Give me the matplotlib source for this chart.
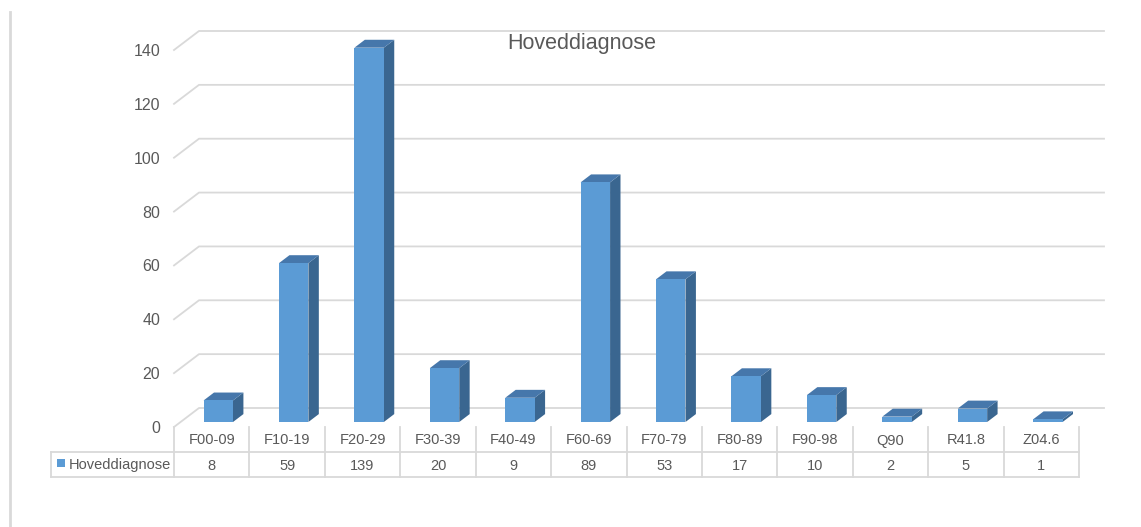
#!/usr/bin/env python3
import matplotlib
matplotlib.use("agg")
import matplotlib.pyplot as plt
from matplotlib.patches import Polygon, Rectangle
from matplotlib.transforms import blended_transform_factory

categories = ["F00-09", "F10-19", "F20-29", "F30-39", "F40-49", "F60-69",
              "F70-79", "F80-89", "F90-98", "Q90", "R41.8", "Z04.6"]
values = [8, 59, 139, 20, 9, 89, 53, 17, 10, 2, 5, 1]
yticks = [0, 20, 40, 60, 80, 100, 120, 140]
series_name = "Hoveddiagnose"
title = "Hoveddiagnose"

FRONT = "#5B9BD5"
TOP = "#4677AB"
SIDE = "#3A6690"
GRID = "#D9D9D9"
TEXT = "#595959"

W, H = 1141, 527
plt.rcParams["font.family"] = ["Liberation Sans", "DejaVu Sans"]

fig = plt.figure(figsize=(W / 100, H / 100), dpi=100)
fig.patch.set_facecolor("white")

# overlay in pixel coordinates for frame decorations
pix = fig.add_axes([0, 0, 1, 1])
pix.set_xlim(0, W)
pix.set_ylim(H, 0)
pix.axis("off")

# front plane of the 3d plot
x0, x1 = 174, 1079
y0, y140 = 427, 50
ax = fig.add_axes([x0 / W, (H - y0) / H, (x1 - x0) / W, (y0 - y140) / H])
n = len(categories)
ax.set_xlim(-0.5, n - 0.5)
ax.set_ylim(0, 140)
ax.patch.set_alpha(0)
for s in ax.spines.values():
    s.set_visible(False)
ax.set_xticks([])
ax.set_yticks(yticks)
ax.tick_params(axis="y", length=0, pad=10, labelsize=11.5, labelcolor=TEXT)

# depth of the plot in data units
px_x = (x1 - x0) / n
px_y = (y0 - y140) / 140
ddx = 25 / px_x
ddy = 19 / px_y

# gridlines: slant on the left wall then along back wall
for v in yticks:
    ax.plot([-0.5, -0.5 + ddx, n - 0.5 + ddx], [v, v + ddy, v + ddy],
            color=GRID, lw=1.3, clip_on=False, zorder=1)

# 3d bars
bw = 0.39
d0, d1 = 0.263, 0.68
for i, v in enumerate(values):
    xl = i - bw / 2 + d0 * ddx
    xr = xl + bw
    yb = d0 * ddy
    yt = v + d0 * ddy
    sx = (d1 - d0) * ddx
    sy = (d1 - d0) * ddy
    ax.add_patch(Polygon([(xr, yb), (xr + sx, yb + sy), (xr + sx, yt + sy), (xr, yt)],
                         closed=True, facecolor=SIDE, edgecolor="none",
                         clip_on=False, zorder=3))
    ax.add_patch(Polygon([(xl, yt), (xr, yt), (xr + sx, yt + sy), (xl + sx, yt + sy)],
                         closed=True, facecolor=TOP, edgecolor="none",
                         clip_on=False, zorder=3))
    ax.add_patch(Rectangle((xl, yb), bw, v, facecolor=FRONT, edgecolor="none",
                           clip_on=False, zorder=4))

# data table: x in categories, y in pixels
tr = blended_transform_factory(ax.transData, pix.transData)
r0, r1, r2 = 427, 452, 477
for i in range(n + 1):
    pix.plot([i - 0.5, i - 0.5], [r0, r2], color=GRID, lw=1.3, transform=tr)
pix.plot([50.5, x1], [r1, r1], color=GRID, lw=1.3)
pix.plot([50.5, x1], [r2, r2], color=GRID, lw=1.3)
pix.plot([50.5, 50.5], [r1, r2], color=GRID, lw=1.3)
for i, (c, v) in enumerate(zip(categories, values)):
    pix.text(i, (r0 + r1) / 2 + 1, c, transform=tr, ha="center", va="center",
             fontsize=10.5, color=TEXT)
    pix.text(i, (r1 + r2) / 2 + 1, str(v), transform=tr, ha="center", va="center",
             fontsize=10.5, color=TEXT)
pix.add_patch(Rectangle((57, 459), 8, 8, facecolor=FRONT, edgecolor="none"))
pix.text(69, (r1 + r2) / 2 + 1, series_name, ha="left", va="center",
         fontsize=10.5, color=TEXT)

# left frame line and title
pix.plot([10, 10], [12, H], color=GRID, lw=2)
pix.text(582, 43, title, ha="center", va="center", fontsize=15.5, color=TEXT)

fig.savefig("out.png", dpi=100)
